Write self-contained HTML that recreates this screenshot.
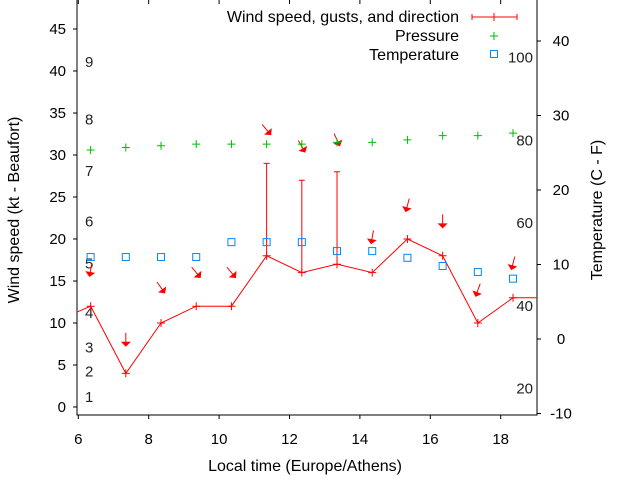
<!DOCTYPE html>
<html><head><meta charset="utf-8"><style>
body{margin:0;background:#fff}
svg{display:block;font-family:"Liberation Sans",Arial,sans-serif}
</style></head><body>
<svg id="chart" width="640" height="480" viewBox="0 0 640 480" xmlns="http://www.w3.org/2000/svg"></svg>
<script>
const times=[6.35,7.35,8.35,9.35,10.35,11.35,12.35,13.35,14.35,15.35,16.35,17.35,18.35];
const windSpeed=[12,4,10,12,12,18,16,17,16,20,18,10,13];
const gustTimes=[11.35,12.35,13.35];
const gustValues=[29,27,28];
const pressure=[30.6,30.9,31.1,31.3,31.3,31.3,31.3,31.5,31.5,31.8,32.3,32.3,32.6];
const temperature=[11,11,11,11,13,13,13,11.8,11.8,10.9,9.8,9,8.1];
const arrowLevel=[16.3,8,14.2,16,16,33,31,31.8,20.2,24,22.1,13.9,17.1];
const arrowAngle=[10,0,-35,-40,-40,-40,-30,-25,10,15,0,20,15];
const xTicks=[6,8,10,12,14,16,18];
const yTicks=[0,5,10,15,20,25,30,35,40,45];
const y2Ticks=[-10,0,10,20,30,40];
const beaufortSpeeds=[1.2,4.2,7.1,11.2,17.1,22.1,28.1,34.2,41.1];
const fahrenheit=[20,40,60,80,100];

const X0=78.3,XPX=35.2,XMIN=6;
const x=t=>X0+(t-XMIN)*XPX;
const y=v=>407-v*8.4;
const y2=c=>339-c*7.45;
const L=77,R=537,T=0,B=415;
const svg=document.getElementById('chart');
const NS='http://www.w3.org/2000/svg';
function mk(tag,attrs,parent){const e=document.createElementNS(NS,tag);for(const k in attrs)e.setAttribute(k,attrs[k]);(parent||svg).appendChild(e);return e;}
function txt(s,xx,yy,anchor,size,color){const e=mk('text',{x:xx,y:yy,'text-anchor':anchor||'start','font-size':size||14,fill:color||'#000'});e.textContent=s;return e;}

let e=mk('path',{d:`M${L} ${T}V${B}H${R}V${T}`,fill:'none',stroke:'#000','stroke-width':1});


xTicks.forEach(t=>{
  e=mk('line',{x1:x(t),x2:x(t),y1:B,y2:B+4,stroke:'#000'});
  
  mk('line',{x1:x(t),x2:x(t),y1:0,y2:4,stroke:'#000'});
  e=txt(String(t),x(t),B+29,'middle',15,'#000');
  
});
yTicks.forEach(v=>{
  e=mk('line',{x1:L-4,x2:L,y1:y(v),y2:y(v),stroke:'#000'});
  
  e=txt(String(v),66,y(v)+5,'end',15);
  
});
y2Ticks.forEach(v=>{
  e=mk('line',{x1:R,x2:R+4,y1:y2(v),y2:y2(v),stroke:'#000'});
  
  e=txt(String(v),561,y2(v)+5,'middle',15);
  
});
beaufortSpeeds.forEach((v,i)=>{
  e=txt(String(i+1),85,y(v)+5,'start',15,'#222');
  
});
fahrenheit.forEach(f=>{
  e=txt(String(f),533,y2((f-32)*5/9)+5,'end',15,'#222');
  
});

e=txt('Local time (Europe/Athens)',305,471,'middle',16);

e=txt('Wind speed (kt - Beaufort)',0,0,'middle',16);
e.setAttribute('transform','translate(19,210) rotate(-90)');

e=txt('Temperature (C - F)',0,0,'middle',16);
e.setAttribute('transform','translate(602,210) rotate(-90)');


let pts=[[L,y(windSpeed[0]-0.7)]].concat(times.map((t,i)=>[x(t),y(windSpeed[i])])).concat([[R,y(windSpeed[windSpeed.length-1])]]);
e=mk('polyline',{points:pts.map(p=>p.join(',')).join(' '),fill:'none',stroke:'#f00','stroke-width':1});

times.forEach((t,i)=>{
  const cx=x(t),cy=y(windSpeed[i]);
  e=mk('path',{d:`M${cx-4} ${cy}H${cx+4}M${cx} ${cy-4}V${cy+4}`,stroke:'#f00','stroke-width':1});
  
});
gustTimes.forEach((t,i)=>{
  const idx=times.indexOf(t);const gx=x(t);
  e=mk('path',{d:`M${gx} ${y(windSpeed[idx])}V${y(gustValues[i])}M${gx-3} ${y(gustValues[i])}H${gx+3}`,stroke:'#f00','stroke-width':1});
  
});
times.forEach((t,i)=>{
  const g=mk('g',{transform:`translate(${x(t)},${y(arrowLevel[i])}) rotate(${arrowAngle[i]})`});
  
  mk('line',{x1:0,y1:-7,x2:0,y2:5,stroke:'#f00','stroke-width':1},g);
  mk('polygon',{points:'-5,2 5,2 0,7',fill:'#f00'},g);
});
pressure.forEach((p,i)=>{
  const cx=x(times[i]),cy=y(p);
  e=mk('path',{d:`M${cx-4} ${cy}H${cx+4}M${cx} ${cy-4}V${cy+4}`,stroke:'#0b0','stroke-width':1});
  
});
temperature.forEach((c,i)=>{
  e=mk('rect',{x:x(times[i])-3.5,y:y2(c)-3.5,width:7,height:7,fill:'none',stroke:'#08f','stroke-width':1});
  
});

e=txt('Wind speed, gusts, and direction',459,22,'end',16);

e=mk('path',{d:'M472 17H517M472 14V20M517 14V20M494 13V21',stroke:'#f00'});

e=txt('Pressure',459,41,'end',16);

e=mk('path',{d:'M490 36H498M494 32V40',stroke:'#0b0'});

e=txt('Temperature',459,60,'end',16);

e=mk('rect',{x:490.5,y:50.5,width:7,height:7,fill:'none',stroke:'#08f'});

</script>
</body></html>
